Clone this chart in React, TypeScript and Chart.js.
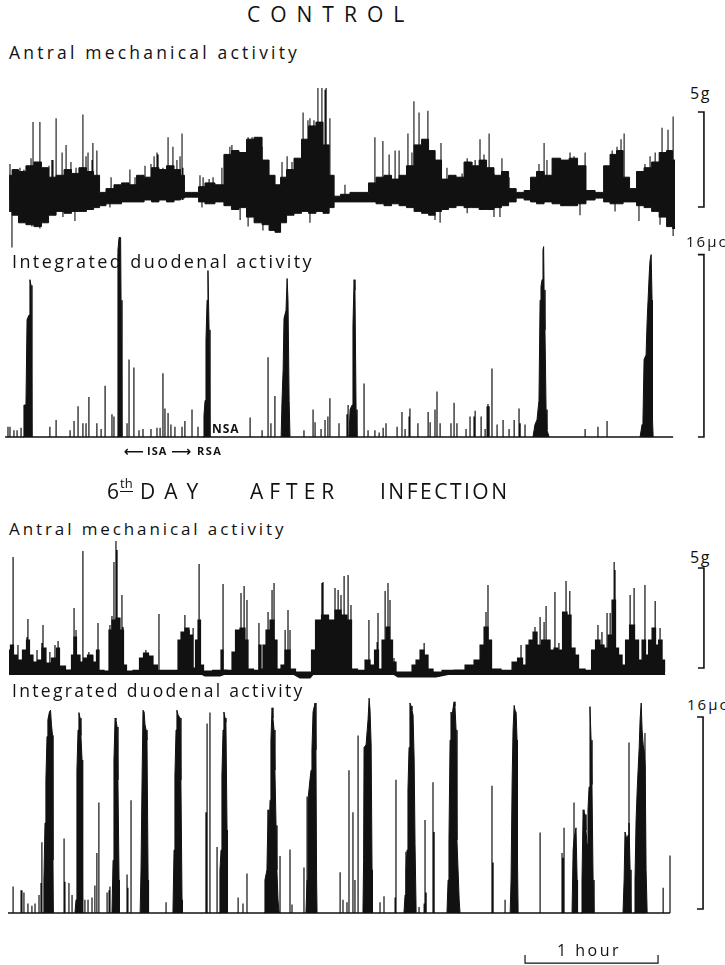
import React, { useEffect, useRef } from "react";
import { Chart, registerables } from "chart.js";

Chart.register(...registerables);

const INK = "#111111";
const FONT = "'Open Sans', 'DejaVu Sans', sans-serif";
// time axis in minutes (recording time); visible window of the page
const X_MIN = -3.6;
const X_MAX = 323.4;

// ---------------- CONTROL: antral mechanical activity (g) ----------------
const ctrlAntralT = [0.5,3.2,6.3,9.9,13.5,16.7,19.9,23.5,27.1,30.2,33.8,37.0,40.2,42.4,46.0,49.6,52.8,56.4,59.6,63.2,66.3,69.9,73.1,76.7,78.9,80.3,85.3,86.6,91.1,95.6,99.2,102.4,106.0,109.2,112.8,116.4,119.1,121.8,124.1,127.2,130.8,134.0,137.1,140.7,143.5,146.2,148.0,152.0,156.5,161.0,164.2,167.8,171.4,174.6,178.2,181.3,185.0,188.1,191.3,194.0,197.1,200.3,203.9,207.5,210.7,214.3,217.4,221.0,224.2,227.4,231.0,234.6,236.8,240.0,243.6,247.2,251.3,254.9,258.9,262.5,267.1,270.2,272.9,276.1,278.8,281.9,285.1,288.7,291.9,295.5,298.6,300.9];
const ctrlAntralUpper = [1.3,1.6,1.5,1.8,2.0,1.7,1.2,1.3,1.6,1.4,1.7,1.5,1.3,0.4,0.6,0.8,0.9,0.8,1.3,1.2,1.7,1.6,1.8,1.6,1.3,0.4,0.4,0.7,0.9,0.8,2.4,2.6,2.5,3.2,3.3,2.1,1.3,0.8,1.2,1.6,2.2,3.2,3.9,4.1,2.9,1.3,0.2,0.3,0.4,0.4,0.9,1.2,1.3,1.1,1.3,1.8,2.9,3.2,2.6,2.1,1.1,1.3,1.2,2.0,1.8,2.1,1.7,1.3,1.5,0.6,0.4,0.5,1.2,1.5,1.3,2.2,2.1,2.2,1.8,0.5,0.4,1.8,2.4,2.6,1.2,0.6,1.5,1.7,2.0,2.5,2.6,2.1];
const ctrlAntralLower = [-0.6,-0.8,-1.2,-1.3,-1.4,-1.2,-0.8,-0.6,-0.7,-0.6,-0.6,-0.5,-0.4,-0.3,-0.2,-0.2,-0.1,-0.1,-0.1,0,-0.1,0,-0.1,0,0.1,0.15,0.15,-0.1,-0.2,-0.1,-0.3,-0.5,-0.4,-0.9,-1.2,-1.3,-1.6,-1.7,-1.2,-0.8,-0.7,-0.6,-0.7,-0.6,-0.7,-0.4,-0.1,-0.1,-0.1,-0.1,-0.1,-0.2,-0.3,-0.2,-0.3,-0.4,-0.6,-0.7,-0.8,-0.6,-0.5,-0.4,-0.3,-0.4,-0.4,-0.5,-0.5,-0.4,-0.3,-0.1,0.1,0,-0.1,-0.2,-0.1,-0.2,-0.3,-0.3,-0.2,0,0.1,-0.1,-0.2,-0.2,-0.1,-0.1,-0.3,-0.4,-0.6,-0.9,-1.4,-1.5];
const ctrlAntralSpikeT = [0.9,3.2,5.4,7.2,10.4,11.3,12.6,14.4,15.8,17.6,18.5,19.8,20.3,21.7,24.4,26.2,28.4,30.7,33.8,35.2,36.1,37.9,38.3,40.1,46.5,49.6,55.0,57.3,61.8,64.5,65.9,67.2,67.7,69.9,72.2,74.4,76.2,77.6,78.5,78.9,86.6,88.0,90.7,92.5,96.5,100.1,101.0,104.7,108.3,110.1,112.8,114.6,123.6,125.9,128.1,130.4,133.1,135.3,136.2,138.0,139.8,141.6,143.0,143.5,145.2,152.0,165.5,169.1,171.9,174.6,176.4,180.4,182.2,183.1,185.4,187.7,189.4,191.3,192.6,195.3,198.0,201.2,204.8,207.1,209.3,210.7,212.9,214.7,217.0,219.2,222.8,226.0,239.5,241.8,243.1,248.5,253.5,254.4,255.3,260.3,269.3,272.5,274.7,276.5,277.9,284.2,287.3,289.6,291.9,295.0,296.4,297.7,300.0];
const ctrlAntralSpikeV = [1.9,1.4,1.7,1.6,2.2,4.1,2.0,4.1,1.7,1.6,1.8,2.1,2.1,4.3,2.5,2.9,2.0,1.7,4.5,2.3,2.5,2.1,3.0,2.6,1.2,0.8,1.6,1.2,1.8,1.9,2.3,2.5,2.4,1.7,3.3,2.8,2.1,2.3,3.5,1.7,1.3,1.2,1.1,1.2,1.7,2.8,2.9,2.5,3.3,3.3,2.8,2.8,2.0,2.3,2.0,1.4,4.6,4.2,4.3,4.2,5.9,5.9,5.8,5.9,4.3,0.8,3.3,3.1,2.4,2.6,2.6,3.5,2.5,5.2,4.6,3.2,4.7,2.5,1.9,3.0,1.7,1.2,1.4,2.2,2.0,2.1,3.2,2.4,3.5,1.4,2.2,1.2,1.9,3.0,2.1,1.8,2.5,2.1,2.3,2.5,1.7,2.6,2.8,3.2,3.5,1.5,1.9,2.3,2.5,3.8,2.5,3.7,4.4];
const ctrlAntralDipT = [1.8,10.8,14.4,24.8,30.2,46.0,87.5,104.7,108.3,115.0,122.7,136.2,192.6,194.9,207.1,219.2,221.9,258.0,273.8,284.6,294.1,298.2,300.0];
const ctrlAntralDipV = [-2.5,-1.4,-1.5,-0.9,-1.1,-0.4,-0.4,-1.05,-1.4,-1.6,-1.7,-1.2,-1.05,-1.2,-0.7,-0.9,-0.9,-0.8,-0.6,-1.1,-1.3,-1.3,-1.9];

// ---------------- CONTROL: integrated duodenal activity (µC) ----------------
const ctrlDuoBursts = [
  [[6.8,0],[7.2,2.8],[8.1,2.8],[8.6,10.3],[9.5,10.7],[9.9,13.8],[10.4,13.3],[10.8,0]],
  [[49.2,0],[49.6,16.4],[50.1,17.5],[50.8,17.5],[51.0,12.0],[51.4,0]],
  [[88.0,0],[88.4,1.9],[88.9,3.2],[89.3,8.5],[89.8,12.0],[90.2,14.6],[90.7,9.4],[91.1,0]],
  [[123.2,0],[123.6,3.2],[124.1,5.9],[124.5,10.4],[125.4,11.1],[125.9,13.9],[126.3,12.0],[126.8,3.2],[127.2,0]],
  [[153.8,0],[154.3,2.4],[155.2,2.8],[155.6,9.8],[156.1,13.8],[156.5,12.9],[157.0,2.4],[157.4,0]],
  [[236.8,0],[237.7,1.1],[238.6,1.5],[239.5,3.2],[240.0,12.0],[240.4,13.2],[240.9,13.8],[241.3,16.4],[241.6,16.7],[241.8,12.9],[242.2,9.4],[242.7,2.4],[243.1,0.6],[244.1,0]],
  [[285.1,0],[286.0,1.1],[286.4,1.5],[286.9,6.8],[287.8,7.2],[288.3,10.3],[288.7,12.0],[289.2,14.2],[289.6,15.5],[290.1,16.0],[290.5,12.0],[290.7,1.5],[291.0,0]],
];
const ctrlDuoSpikeT = [0.0,0.9,2.7,4.1,5.9,18.9,21.7,28.0,29.8,31.6,33.8,35.2,36.5,40.1,42.0,43.8,46.9,47.8,53.7,54.6,56.8,59.1,60.9,64.5,67.2,68.6,69.9,70.8,72.2,73.5,75.3,78.5,79.8,83.0,85.7,109.2,114.6,117.3,118.6,120.4,133.5,137.6,138.5,141.2,143.0,144.3,145.2,149.3,152.9,153.4,160.6,162.4,165.5,167.4,169.2,170.5,175.5,177.7,179.1,180.9,181.3,184.9,189.5,190.4,192.6,193.5,194.9,199.8,201.2,202.5,206.6,208.4,210.2,210.7,213.4,215.2,216.1,216.5,217.0,218.3,220.6,223.3,226.0,228.3,230.5,231.0,233.2,260.3,266.1,270.2];
const ctrlDuoSpikeV = [0.9,0.9,0.6,0.6,0.8,0.9,1.5,0.6,1.4,2.7,1.2,1.2,3.5,1.2,0.7,4.5,2.0,1.8,1.2,6.8,6.1,0.6,0.7,0.7,0.8,0.8,5.6,2.5,2.1,1.1,0.9,0.9,1.4,2.4,0.9,1.7,0.6,7.0,1.2,3.6,0.6,2.4,1.3,0.7,1.5,1.8,3.4,1.2,2.0,2.8,4.7,0.6,0.6,0.4,0.8,1.2,0.9,2.2,0.7,1.8,2.5,1.2,2.2,1.3,2.4,4.0,1.2,1.2,3.0,1.2,0.7,1.8,1.8,2.3,1.8,0.7,2.7,2.9,2.7,6.0,1.1,1.5,0.7,1.5,2.5,1.2,1.1,0.7,0.9,1.4];
const ctrlDuoSpan = [-1.3, 300.0];

// ---------------- 6th DAY: antral mechanical activity (g) ----------------
const infAntralT = [0.45,1.80,3.16,5.41,7.67,9.02,10.38,12.18,14.44,16.24,18.04,21.20,22.56,23.91,27.97,29.32,30.22,31.58,33.38,34.73,36.99,39.25,40.60,41.50,45.11,46.01,47.82,49.62,51.43,52.78,54.13,58.64,60.00,62.25,64.51,66.31,68.57,76.24,77.14,78.94,80.75,82.55,83.90,85.26,86.16,87.51,88.87,95.63,96.54,97.44,100.14,101.95,103.30,106.01,107.81,108.72,112.78,113.68,114.58,115.48,117.29,119.09,120.89,121.80,124.50,125.40,126.76,127.66,131.72,136.23,137.59,139.84,143.00,146.16,148.86,151.57,154.28,155.63,159.69,162.40,164.20,166.46,167.81,169.61,171.42,172.77,174.12,175.93,181.34,183.15,184.95,186.75,188.56,190.36,193.07,198.48,203.90,208.41,212.02,213.82,215.63,217.43,218.78,226.00,228.71,230.96,233.22,234.12,235.93,237.73,239.53,241.79,243.59,245.40,247.20,249.00,251.26,253.06,254.87,256.67,258.03,262.54,263.89,266.14,267.95,269.75,271.55,273.36,274.71,276.07,277.87,279.23,281.48,283.74,285.09,286.90,288.25,289.60,291.41,292.76,294.12,295.92,296.37];
const infAntralUpper = [1.1,1.35,0.85,0.6,1.1,1.6,0.85,0.5,0.6,1.2,0.45,0.7,1.2,0.3,0.1,0.85,1.75,0.85,0.5,0.7,0.85,0.5,1.1,0.08,0.05,2.1,2.6,2.7,2.1,0.35,0.05,0.08,0.7,0.95,0.8,0.35,0.08,0.08,1.6,2.0,2.2,1.85,0.2,1.6,2.6,0.35,0.05,0.08,1.1,0.1,0.08,1.0,2.1,2.2,1.6,0.15,0.08,1.35,0.15,1.35,2.1,2.6,1.6,0.15,0.35,1.1,1.1,0.15,0.0,0.0,1.1,2.6,2.85,2.6,3.1,2.85,2.6,0.15,0.08,0.6,0.35,1.1,0.15,1.6,2.25,1.6,0.5,0.0,0.0,0.35,0.6,1.1,0.85,0.15,0.0,0.08,0.1,0.35,0.6,1.35,2.25,1.6,0.15,0.08,0.5,0.7,0.35,1.35,1.6,2.0,1.35,1.6,1.6,1.1,1.2,1.1,3.0,2.85,1.2,0.85,0.15,0.08,1.1,1.6,1.35,1.2,1.85,3.6,1.2,0.85,0.35,1.6,2.35,1.6,0.6,1.6,0.85,1.6,2.2,1.35,1.6,0.6,0.0];
const infAntralLowT = [0.45,87.5,88.9,95.6,97.4,129.0,131.7,136.2,137.6,174.1,175.9,193.1,198.5,296.4];
const infAntralLowV = [-0.12,-0.12,-0.2,-0.2,-0.12,-0.12,-0.3,-0.3,-0.12,-0.12,-0.25,-0.25,-0.12,-0.12];
const infAntralSpikeT = [2.3,4.5,8.6,9.0,13.1,15.3,15.8,18.9,21.2,22.6,29.8,30.7,33.8,36.5,38.3,40.6,46.0,46.9,47.8,48.7,49.2,51.4,51.9,62.2,68.1,79.8,81.7,83.5,86.2,97.0,105.1,106.5,107.8,113.2,117.3,119.1,120.0,125.0,126.3,127.2,141.6,142.1,144.3,146.6,147.5,148.9,150.2,151.6,153.4,154.7,162.8,166.5,166.9,170.1,171.4,172.3,174.1,187.7,215.6,216.5,231.4,237.7,240.0,241.8,242.7,246.7,248.5,251.7,253.4,266.1,267.9,270.2,271.6,273.4,273.8,280.6,282.4,287.3,291.9,294.1];
const infAntralSpikeV = [5.75,1.35,1.75,2.65,1.1,1.45,2.35,1.0,1.35,1.55,3.2,2.1,6.05,1.0,0.85,2.45,2.35,2.8,5.5,6.55,6.1,3.85,2.25,1.1,2.9,2.85,2.1,2.2,5.4,4.4,3.95,4.3,3.6,2.45,3.0,4.1,4.45,2.1,3.1,2.1,4.45,4.5,2.7,2.35,4.2,4.1,3.85,4.8,4.85,3.35,2.6,1.5,2.95,4.05,4.45,3.6,0.7,1.45,3.0,4.35,1.35,2.25,2.75,2.5,3.3,4.0,1.45,4.55,4.05,2.35,2.0,2.95,2.95,5.5,5.1,3.85,4.2,4.35,3.55,2.2];

// ---------------- 6th DAY: integrated duodenal activity (µC) ----------------
const infDuoBursts = [
  [[15.8,0],[16.2,2.75],[16.7,7.5],[17.1,11.1],[17.6,14.7],[18.0,16.1],[18.7,16.75],[19.2,16.9],[19.6,15.7],[20.1,14.8],[20.3,4.4],[20.5,0]],
  [[30.2,0],[30.7,1.1],[31.1,11.9],[31.6,15.25],[32.0,16.7],[32.5,16.25],[32.9,14.8],[33.4,12.75],[33.6,2.75],[33.8,0]],
  [[46.9,0],[47.4,4.4],[47.8,12.75],[48.3,16.25],[48.7,16.1],[49.2,15.5],[49.6,11.1],[50.1,2.75],[50.3,0]],
  [[59.6,0],[60.0,3.6],[60.5,11.5],[60.9,16.9],[61.4,16.75],[61.8,15.7],[62.3,15.25],[62.7,14.4],[63.2,2.75],[63.4,0]],
  [[74.4,0],[74.9,5.25],[75.3,11.5],[75.8,15.25],[76.2,16.9],[76.7,16.5],[77.6,16.25],[78.0,11.1],[78.5,1.1],[78.7,0]],
  [[95.2,0],[95.6,3.6],[96.1,5.25],[96.5,11.5],[97.0,15.25],[97.4,16.75],[97.9,16.25],[98.3,15.9],[98.8,6.9],[99.0,0]],
  [[115.5,0],[115.9,2.75],[116.8,3.6],[117.3,8.6],[117.7,5.25],[118.2,9.4],[118.6,14.4],[119.1,17.1],[119.5,16.25],[120.0,15.25],[120.4,11.9],[120.9,7.3],[121.3,3.6],[121.8,1.1],[122.3,0]],
  [[134.4,0],[134.9,2.75],[135.3,9.4],[136.2,11.1],[136.7,11.9],[137.1,13.6],[137.6,16.75],[138.5,17.5],[138.9,13.6],[139.2,2.75],[139.4,0]],
  [[160.1,0],[160.4,4.4],[160.6,13.8],[161.5,14.0],[162.4,16.1],[162.9,17.9],[163.3,16.9],[163.8,14.0],[164.2,3.6],[164.4,0]],
  [[178.6,0],[179.1,1.5],[179.5,3.6],[180.0,5.25],[180.4,10.25],[180.9,13.8],[181.3,17.5],[181.8,17.25],[182.2,16.9],[182.7,16.5],[183.2,12.75],[183.6,5.7],[184.1,0]],
  [[198.0,0],[198.5,2.75],[198.9,6.1],[199.4,14.4],[199.8,16.75],[200.3,16.5],[201.2,17.6],[201.6,17.25],[202.1,15.25],[202.5,6.1],[203.0,3.6],[203.5,1.1],[203.9,0]],
  [[226.5,0],[226.9,2.75],[227.4,11.1],[227.8,15.25],[228.3,17.3],[228.7,16.9],[229.2,16.7],[229.6,14.4],[229.8,4.4],[230.1,0]],
  [[254.4,0],[254.9,5.25],[255.3,6.1],[256.2,7.1],[256.7,2.75],[256.9,0]],
  [[258.5,0],[258.9,2.75],[259.4,8.6],[259.8,8.4],[260.3,8.2],[260.7,6.9],[261.2,5.7],[261.6,8.6],[262.1,10.5],[262.5,17.2],[263.0,14.4],[263.4,10.7],[263.9,2.75],[264.3,0]],
  [[277.4,0],[277.9,2.75],[278.3,6.75],[279.2,6.1],[279.7,6.5],[280.1,7.5],[280.6,3.6],[281.0,0]],
  [[282.4,0],[282.8,2.75],[283.3,7.75],[283.8,10.25],[284.2,11.9],[284.7,13.8],[285.1,16.1],[285.6,17.5],[286.0,15.25],[286.5,14.0],[286.9,13.6],[287.4,12.3],[287.8,3.6],[288.3,0]],
];
const infDuoSpikeT = [2.3,5.9,6.3,7.2,9.0,10.8,12.2,14.0,14.9,15.3,25.3,25.7,27.5,28.9,34.7,36.1,37.9,39.2,40.1,41.0,44.7,45.6,46.0,53.7,54.1,55.5,71.3,89.3,89.8,91.1,94.3,103.8,106.0,107.8,122.7,127.2,128.1,133.5,134.9,149.8,151.1,152.9,153.8,155.6,156.5,157.9,167.8,169.6,174.6,175.0,179.5,185.4,187.7,188.1,188.6,191.7,192.2,218.3,218.8,224.2,240.0,249.9,250.4,250.8,255.3,259.8,280.1,287.3,295.5,298.6];
const infDuoSpikeV = [2.2,1.9,1.9,1.7,0.8,0.6,0.8,1.5,2.5,5.9,6.2,2.6,2.5,1.5,1.1,1.1,1.3,2.3,5.0,9.2,1.7,1.9,2.2,3.2,2.1,9.4,0.9,8.4,15.8,16.7,5.5,1.3,0.8,3.3,4.75,5.3,0.7,3.8,9.7,3.4,1.1,0.9,11.9,8.4,2.75,14.8,0.9,1.4,1.3,11.1,5.1,0.5,0.8,7.75,1.7,10.9,6.75,10.6,4.2,1.1,6.7,5.0,4.6,7.1,9.2,8.4,14.2,15.0,2.1,4.8];
const infDuoSpan = [0.0, 298.6];

// calibration marks: [value at bracket foot, value at bracket head]
const antralCalCtrl = [-0.37, 4.63];   // 5 g
const duoCalCtrl = [0, 16];            // 16 µC
const antralCalInf = [0.2, 5.2];       // 5 g
const duoCalInf = [0.33, 16.33];       // 16 µC
const calTime = 313.9;                 // where the calibration brackets stand
const hourBar = [233.2, 293.2];        // 1 hour

// ---------------- helpers ----------------
type XY = { x: number; y: number | null };
const toXY = (ts: number[], vs: number[]): XY[] => ts.map((t, i) => ({ x: t, y: vs[i] }));
const pairsXY = (pairs: number[][]): XY[] => pairs.map(([x, y]) => ({ x, y }));
const spikesXY = (ts: number[], vs: number[]): XY[] => {
  const out: XY[] = [];
  ts.forEach((t, i) => {
    out.push({ x: t, y: 0 }, { x: t, y: vs[i] }, { x: t, y: null });
  });
  return out;
};
const ds = (data: XY[], extra: any = {}) => ({
  data,
  borderColor: INK,
  backgroundColor: INK,
  borderWidth: 1,
  pointRadius: 0,
  fill: false,
  tension: 0,
  spanGaps: false,
  ...extra,
});

const marksPlugin = {
  id: "marks",
  afterDatasetsDraw(chart: any, _args: any, opts: any) {
    const { ctx } = chart;
    const x = chart.scales.x;
    const y = chart.scales.y;
    ctx.save();
    ctx.strokeStyle = INK;
    ctx.lineWidth = 1.6;
    (opts.brackets || []).forEach((b: any) => {
      const px = x.getPixelForValue(b.t);
      const y0 = y.getPixelForValue(b.lo);
      const y1 = y.getPixelForValue(b.hi);
      ctx.beginPath();
      ctx.moveTo(px - 6, y1);
      ctx.lineTo(px, y1);
      ctx.lineTo(px, y0);
      ctx.lineTo(px - 6, y0);
      ctx.stroke();
    });
    if (opts.hour) {
      const h = opts.hour;
      const xa = x.getPixelForValue(h.t0);
      const xb = x.getPixelForValue(h.t1);
      const yb = y.getPixelForValue(h.yBottom);
      const yt = y.getPixelForValue(h.yTop);
      ctx.lineWidth = 1.2;
      ctx.beginPath();
      ctx.moveTo(xa, yt);
      ctx.lineTo(xa, yb);
      ctx.lineTo(xb, yb);
      ctx.lineTo(xb, yt);
      ctx.stroke();
    }
    ctx.restore();
  },
};

function Trace(props: { top: number; height: number; yMin: number; yMax: number; build: () => any[]; marks: any }) {
  const ref = useRef<HTMLCanvasElement | null>(null);
  const { top, height, yMin, yMax, build, marks } = props;
  useEffect(() => {
    if (!ref.current) return;
    const chart = new Chart(ref.current, {
      type: "line",
      data: { datasets: build() },
      options: {
        animation: false,
        responsive: false,
        maintainAspectRatio: false,
        events: [],
        layout: { padding: 0 },
        plugins: {
          legend: { display: false },
          tooltip: { enabled: false },
          marks,
        } as any,
        scales: {
          x: { type: "linear", min: X_MIN, max: X_MAX, display: false },
          y: { type: "linear", min: yMin, max: yMax, display: false },
        },
      },
      plugins: [marksPlugin as any],
    } as any);
    return () => chart.destroy();
  }, []);
  return (
    <canvas
      ref={ref}
      width={725}
      height={height}
      style={{ position: "absolute", left: 0, top, width: 725, height }}
    />
  );
}

function Label(props: { x: number; y: number; size: number; ls?: number; bold?: boolean; children: any }) {
  return (
    <div
      style={{
        position: "absolute",
        left: props.x,
        top: props.y,
        fontFamily: FONT,
        fontSize: props.size,
        fontWeight: props.bold ? 700 : 400,
        letterSpacing: props.ls ?? 0,
        lineHeight: 1,
        whiteSpace: "nowrap",
        color: INK,
      }}
    >
      {props.children}
    </div>
  );
}

export default function App() {
  const buildA = () => [
    ds(toXY(ctrlAntralT, ctrlAntralUpper), { fill: "+1", stepped: "middle" }),
    ds(toXY(ctrlAntralT, ctrlAntralLower), { stepped: "middle" }),
    ds(spikesXY(ctrlAntralSpikeT, ctrlAntralSpikeV), { borderWidth: 1.1 }),
    ds(spikesXY(ctrlAntralDipT, ctrlAntralDipV), { borderWidth: 1.1 }),
  ];
  const buildB = () => [
    ds(toXY(ctrlDuoSpan, [0, 0]), { borderWidth: 1.5 }),
    ...ctrlDuoBursts.map((b) => ds(pairsXY(b), { fill: "origin" })),
    ds(spikesXY(ctrlDuoSpikeT, ctrlDuoSpikeV), { borderWidth: 1.2 }),
  ];
  const buildC = () => [
    ds(toXY(infAntralT, infAntralUpper), { fill: "origin", borderWidth: 1.2, stepped: "middle" }),
    ds(toXY(infAntralLowT, infAntralLowV), { fill: "origin", borderWidth: 1.2 }),
    ds(spikesXY(infAntralSpikeT, infAntralSpikeV), { borderWidth: 1.2 }),
  ];
  const buildD = () => [
    ds(toXY(infDuoSpan, [0, 0]), { borderWidth: 1.5 }),
    ...infDuoBursts.map((b) => ds(pairsXY(b), { fill: "origin" })),
    ds(spikesXY(infDuoSpikeT, infDuoSpikeV), { borderWidth: 1.2 }),
  ];

  return (
    <div style={{ position: "absolute", left: 0, top: 0, width: 725, height: 965, background: "#fff", overflow: "hidden" }}>
      <Label x={247} y={4} size={21} ls={10}>CONTROL</Label>
      <Label x={9} y={44} size={17.5} ls={3.2}>Antral mechanical activity</Label>
      <Label x={690} y={85} size={16} ls={1.5}>5g</Label>

      <Trace top={60} height={195} yMin={-2.895} yMax={7.368} build={buildA}
        marks={{ brackets: [{ t: calTime, lo: antralCalCtrl[0], hi: antralCalCtrl[1] }] }} />

      <Label x={12} y={252} size={18} ls={2.4}>Integrated duodenal activity</Label>
      <Label x={686} y={234} size={15} ls={2}>16µc</Label>

      <Trace top={230} height={230} yMin={-2.02} yMax={18.16} build={buildB}
        marks={{ brackets: [{ t: calTime, lo: duoCalCtrl[0], hi: duoCalCtrl[1] }] }} />

      <Label x={212} y={423} size={12} ls={1} bold>NSA</Label>
      <Label x={124} y={444} size={14} bold>⟵</Label>
      <Label x={147} y={445} size={11} ls={1} bold>ISA</Label>
      <Label x={171} y={444} size={14} bold>⟶</Label>
      <Label x={197} y={445} size={11} ls={1.5} bold>RSA</Label>

      <Label x={107} y={481} size={21}>6</Label>
      <div style={{ position: "absolute", left: 120, top: 477, fontFamily: FONT, fontWeight: 400, fontSize: 13, lineHeight: 1, color: INK, borderBottom: `1.5px solid ${INK}`, paddingBottom: 1 }}>th</div>
      <Label x={140} y={481} size={21} ls={9}>DAY</Label>
      <Label x={250} y={481} size={21} ls={6}>AFTER</Label>
      <Label x={380} y={481} size={21} ls={2.5}>INFECTION</Label>

      <Label x={9} y={520} size={17} ls={2.9}>Antral mechanical activity</Label>
      <Label x={690} y={549} size={16} ls={1.5}>5g</Label>

      <Trace top={530} height={160} yMin={-0.9} yMax={7.1} build={buildC}
        marks={{ brackets: [{ t: calTime, lo: antralCalInf[0], hi: antralCalInf[1] }] }} />

      <Label x={12} y={682} size={17.5} ls={2.3}>Integrated duodenal activity</Label>
      <Label x={687} y={697} size={15} ls={2}>16µc</Label>

      <Trace top={690} height={275} yMin={-4.333} yMax={18.583} build={buildD}
        marks={{
          brackets: [{ t: calTime - 0.4, lo: duoCalInf[0], hi: duoCalInf[1] }],
          hour: { t0: hourBar[0], t1: hourBar[1], yBottom: -4.17, yTop: -3.5 },
        }} />

      <Label x={557} y={942} size={16} ls={2.5}>1 hour</Label>
    </div>
  );
}
